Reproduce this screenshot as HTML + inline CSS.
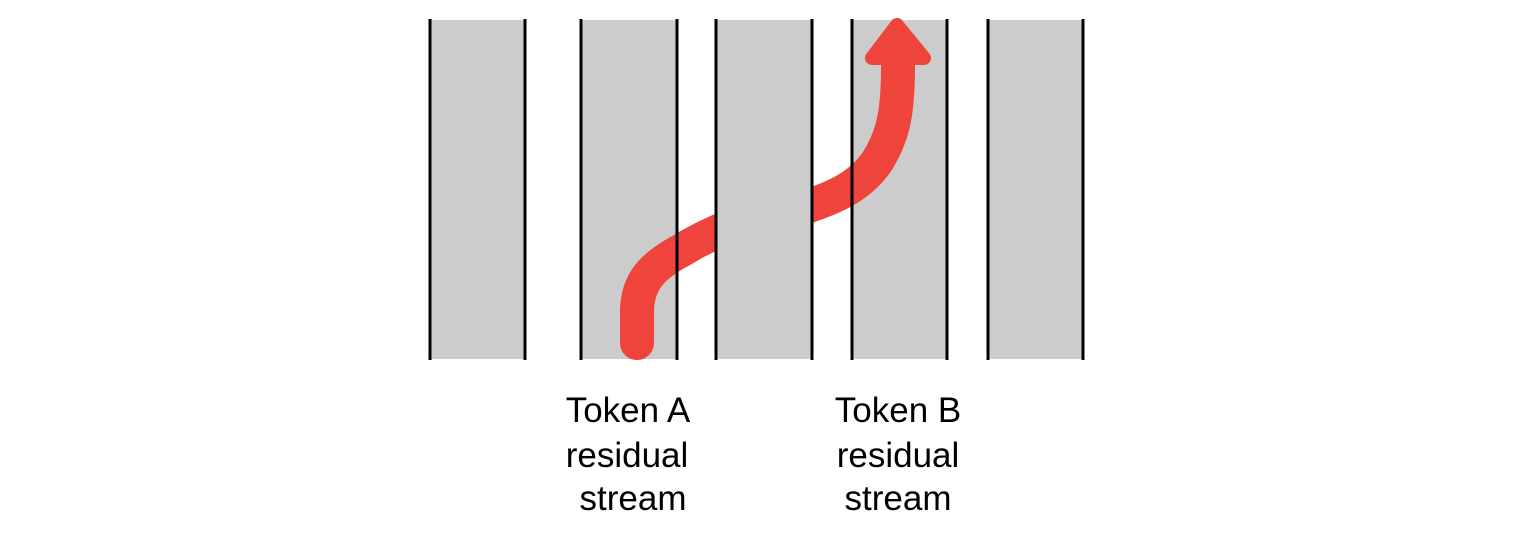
<!DOCTYPE html>
<html><head><meta charset="utf-8"><style>
html,body{margin:0;padding:0;background:#fff;}
svg{display:block;}
</style></head><body>
<svg width="1518" height="546" viewBox="0 0 1518 546" xmlns="http://www.w3.org/2000/svg">
<g fill="#cccccc">
<rect x="430" y="20" width="95" height="339"/>
<rect x="581" y="20" width="96" height="339"/>
<rect x="852" y="20" width="95" height="339"/>
<rect x="988" y="20" width="95" height="339"/>
</g>
<path d="M637,343 L637,312 C637,282 652,266 682,250 C697,241 707,236 730,226 L790,212 C830,200 860,188 878,160 C894,134 898,110 898,66" fill="none" stroke="#ee443c" stroke-width="34" stroke-linecap="round" stroke-linejoin="round"/>
<polygon points="897,25 872,58 924,58" fill="#ee443c" stroke="#ee443c" stroke-width="14" stroke-linejoin="round"/>
<rect x="716" y="20" width="96" height="339" fill="#cccccc"/>
<g stroke="#000" stroke-width="3">
<line x1="430" y1="19" x2="430" y2="360"/><line x1="525" y1="19" x2="525" y2="360"/>
<line x1="581" y1="19" x2="581" y2="360"/><line x1="677" y1="19" x2="677" y2="360"/>
<line x1="716" y1="19" x2="716" y2="360"/><line x1="812" y1="19" x2="812" y2="360"/>
<line x1="852" y1="19" x2="852" y2="360"/><line x1="947" y1="19" x2="947" y2="360"/>
<line x1="988" y1="19" x2="988" y2="360"/><line x1="1083" y1="19" x2="1083" y2="360"/>
</g>
<g font-family="Liberation Sans, sans-serif" font-size="35" fill="#000" text-anchor="middle">
<text x="628" y="422">Token A</text>
<text x="627" y="467">residual</text>
<text x="633" y="510">stream</text>
<text x="898" y="422">Token B</text>
<text x="898" y="467">residual</text>
<text x="898" y="510">stream</text>
</g>
</svg>
</body></html>
